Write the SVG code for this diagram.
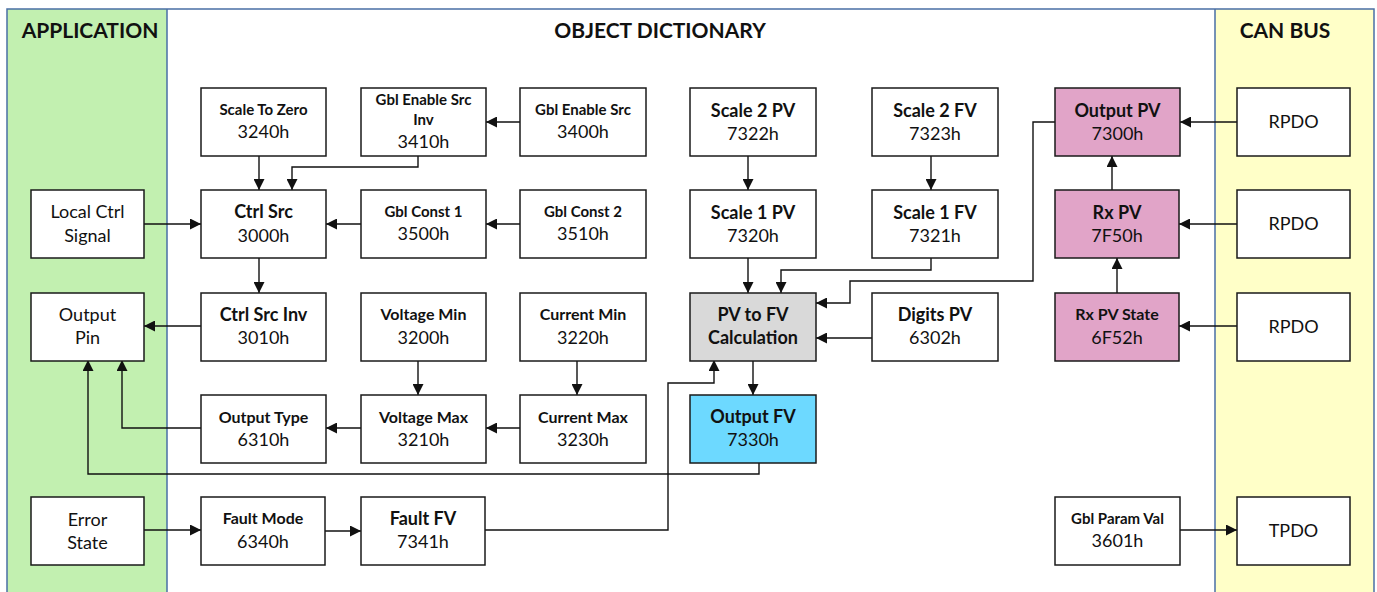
<svg xmlns="http://www.w3.org/2000/svg" width="1377" height="592" viewBox="0 0 1377 592">
<style>
.bx{fill:#fff;stroke:#1a1a1a;stroke-width:1.5}
.pk{fill:#E1A4C8}
.bl{fill:#6DD9FF}
.gy{fill:#D9D9D9}
text{font-family:Lato,"Open Sans","Liberation Sans",sans-serif;text-anchor:middle;fill:#111}
.tb{font-weight:bold;font-size:18px}
.tm{font-weight:bold;font-size:16px}
.ts{font-weight:bold;font-size:15px}
.hx{font-size:18px}
.rg{font-size:18px}
.hd{font-weight:bold;font-size:21px}
.cn path{fill:none;stroke:#111;stroke-width:1.4;marker-end:url(#ah)}
.pl{stroke:#4A6FA5;stroke-width:1.5;fill:none}
</style>
<defs>
<marker id="ah" viewBox="0 0 10 10" refX="10" refY="5" markerWidth="12" markerHeight="11" markerUnits="userSpaceOnUse" orient="auto">
<path d="M0,0 L10,5 L0,10 z" fill="#111"/>
</marker>
</defs>
<rect x="0" y="0" width="1377" height="592" fill="#fff"/>
<g id="panels">
<rect x="7" y="9" width="160" height="583" fill="#C2F0B0"/>
<rect x="1215" y="9" width="159" height="583" fill="#FFFFC8"/>
<path class="pl" d="M7,592 V9 H1374 V592 M167,9 V592 M1215,9 V592"/>
<text class="hd" x="90" y="38">APPLICATION</text>
<text class="hd" x="660" y="38">OBJECT DICTIONARY</text>
<text class="hd" x="1285" y="38">CAN BUS</text>
</g>
<g class="cn" id="connectors">
<path d="M259,156 V190"/>
<path d="M418,156 V167 H292 V190"/>
<path d="M520,122 H486"/>
<path d="M144,224 H201"/>
<path d="M361,224 H326"/>
<path d="M520,224 H486"/>
<path d="M259,258 V293"/>
<path d="M201,326 H144"/>
<path d="M418,360 V395"/>
<path d="M577,360 V395"/>
<path d="M520,428 H486"/>
<path d="M361,428 H326"/>
<path d="M201,428 H122 V360"/>
<path d="M759,463 V474 H88 V360"/>
<path d="M144,530 H201"/>
<path d="M325,531 H361"/>
<path d="M485,530 H668 V383 H714 V360"/>
<path d="M748,156 V190"/>
<path d="M748,258 V293"/>
<path d="M931,156 V190"/>
<path d="M931,258 V270 H781 V293"/>
<path d="M1055,122 H1033 V281 H850 V303 H816"/>
<path d="M872,338 H816"/>
<path d="M753,360 V395"/>
<path d="M1237,122 H1180"/>
<path d="M1112,190 V156"/>
<path d="M1237,224 H1179"/>
<path d="M1117,293 V258"/>
<path d="M1237,326 H1179"/>
<path d="M1180,530 H1237"/>
</g>
<g id="n3240"><rect class="bx" x="201" y="88" width="125" height="68"/><text class="ts" x="263.5" y="115">Scale To Zero</text><text class="hx" x="263.5" y="138">3240h</text></g>
<g id="n3410"><rect class="bx" x="361" y="88" width="125" height="68"/><text class="ts" x="423.5" y="105">Gbl Enable Src</text><text class="ts" x="423.5" y="125">Inv</text><text class="hx" x="423.5" y="148">3410h</text></g>
<g id="n3400"><rect class="bx" x="520" y="88" width="126" height="68"/><text class="ts" x="583" y="115">Gbl Enable Src</text><text class="hx" x="583" y="138">3400h</text></g>
<g id="n7322"><rect class="bx" x="690" y="88" width="126" height="68"/><text class="tb" x="753" y="117">Scale 2 PV</text><text class="hx" x="753" y="140">7322h</text></g>
<g id="n7323"><rect class="bx" x="872" y="88" width="126" height="68"/><text class="tb" x="935" y="117">Scale 2 FV</text><text class="hx" x="935" y="140">7323h</text></g>
<g id="n7300"><rect class="bx pk" x="1055" y="88" width="125" height="68"/><text class="tb" x="1117.5" y="117">Output PV</text><text class="hx" x="1117.5" y="140">7300h</text></g>
<g id="rpdo1"><rect class="bx" x="1237" y="88" width="113" height="68"/><text class="rg" x="1293.5" y="128">RPDO</text></g>
<g id="local"><rect class="bx" x="31" y="190" width="113" height="68"/><text class="rg" x="87.5" y="218">Local Ctrl</text><text class="rg" x="87.5" y="242">Signal</text></g>
<g id="n3000"><rect class="bx" x="201" y="190" width="125" height="68"/><text class="tb" x="263.5" y="218">Ctrl Src</text><text class="hx" x="263.5" y="242">3000h</text></g>
<g id="n3500"><rect class="bx" x="361" y="190" width="125" height="68"/><text class="ts" x="423.5" y="217">Gbl Const 1</text><text class="hx" x="423.5" y="240">3500h</text></g>
<g id="n3510"><rect class="bx" x="520" y="190" width="126" height="68"/><text class="ts" x="583" y="217">Gbl Const 2</text><text class="hx" x="583" y="240">3510h</text></g>
<g id="n7320"><rect class="bx" x="690" y="190" width="126" height="68"/><text class="tb" x="753" y="219">Scale 1 PV</text><text class="hx" x="753" y="242">7320h</text></g>
<g id="n7321"><rect class="bx" x="872" y="190" width="126" height="68"/><text class="tb" x="935" y="219">Scale 1 FV</text><text class="hx" x="935" y="242">7321h</text></g>
<g id="n7F50"><rect class="bx pk" x="1055" y="190" width="124" height="68"/><text class="tb" x="1117" y="219">Rx PV</text><text class="hx" x="1117" y="242">7F50h</text></g>
<g id="rpdo2"><rect class="bx" x="1237" y="190" width="113" height="68"/><text class="rg" x="1293.5" y="230">RPDO</text></g>
<g id="outpin"><rect class="bx" x="31" y="293" width="113" height="68"/><text class="rg" x="87.5" y="321">Output</text><text class="rg" x="87.5" y="344">Pin</text></g>
<g id="n3010"><rect class="bx" x="201" y="293" width="125" height="68"/><text class="tb" x="263.5" y="321">Ctrl Src Inv</text><text class="hx" x="263.5" y="344">3010h</text></g>
<g id="n3200"><rect class="bx" x="361" y="293" width="125" height="68"/><text class="tm" x="423.5" y="320">Voltage Min</text><text class="hx" x="423.5" y="344">3200h</text></g>
<g id="n3220"><rect class="bx" x="520" y="293" width="126" height="68"/><text class="tm" x="583" y="320">Current  Min</text><text class="hx" x="583" y="344">3220h</text></g>
<g id="pvfv"><rect class="bx gy" x="690" y="293" width="126" height="68"/><text class="tb" x="753" y="321">PV to FV</text><text class="tb" x="753" y="344">Calculation</text></g>
<g id="n6302"><rect class="bx" x="872" y="293" width="126" height="68"/><text class="tb" x="935" y="321">Digits PV</text><text class="hx" x="935" y="344">6302h</text></g>
<g id="n6F52"><rect class="bx pk" x="1055" y="293" width="124" height="68"/><text class="tm" x="1117" y="320">Rx PV State</text><text class="hx" x="1117" y="344">6F52h</text></g>
<g id="rpdo3"><rect class="bx" x="1237" y="293" width="113" height="68"/><text class="rg" x="1293.5" y="333">RPDO</text></g>
<g id="n6310"><rect class="bx" x="201" y="395" width="125" height="68"/><text class="tm" x="263.5" y="423">Output  Type</text><text class="hx" x="263.5" y="446">6310h</text></g>
<g id="n3210"><rect class="bx" x="361" y="395" width="125" height="68"/><text class="tm" x="423.5" y="423">Voltage Max</text><text class="hx" x="423.5" y="446">3210h</text></g>
<g id="n3230"><rect class="bx" x="520" y="395" width="126" height="68"/><text class="tm" x="583" y="423">Current  Max</text><text class="hx" x="583" y="446">3230h</text></g>
<g id="n7330"><rect class="bx bl" x="690" y="395" width="126" height="68"/><text class="tb" x="753" y="423">Output FV</text><text class="hx" x="753" y="446">7330h</text></g>
<g id="error"><rect class="bx" x="31" y="497" width="113" height="68"/><text class="rg" x="87.5" y="526">Error</text><text class="rg" x="87.5" y="549">State</text></g>
<g id="n6340"><rect class="bx" x="201" y="497" width="124" height="68"/><text class="tm" x="263" y="524">Fault Mode</text><text class="hx" x="263" y="548">6340h</text></g>
<g id="n7341"><rect class="bx" x="361" y="497" width="124" height="68"/><text class="tb" x="423" y="525">Fault  FV</text><text class="hx" x="423" y="548">7341h</text></g>
<g id="n3601"><rect class="bx" x="1055" y="497" width="125" height="68"/><text class="ts" x="1117.5" y="524">Gbl Param Val</text><text class="hx" x="1117.5" y="547">3601h</text></g>
<g id="tpdo"><rect class="bx" x="1237" y="497" width="113" height="68"/><text class="rg" x="1293.5" y="537">TPDO</text></g>
</svg>
